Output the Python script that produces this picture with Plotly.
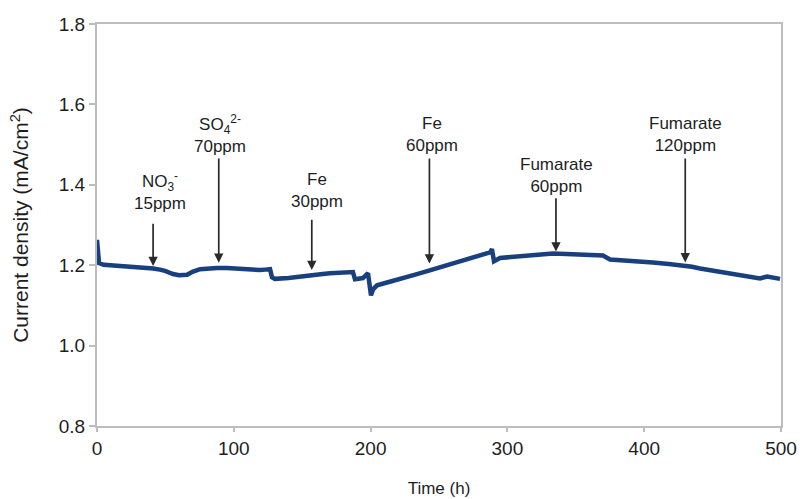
import plotly.graph_objects as go

# Time (h) and current density (mA/cm2)
time_h = [0, 0.7, 1.5, 5, 9.5, 15, 24, 32, 41, 46, 49.7, 55.6, 60, 65.8, 70.2, 75.3, 80, 87.7,
          95, 104.5, 112, 119, 123, 126.5, 127.9, 130, 140, 148.4, 157.9, 165, 170.3, 178, 185,
          187.1, 188.6, 194.4, 198.1, 200.3, 201.8, 204.7, 212, 221.5, 232, 242, 254, 265.4,
          276, 285.8, 287.3, 288.7, 290.2, 294.6, 302, 309.2, 320, 333.3, 343, 353, 362, 369.9,
          375, 382, 389.6, 398, 406.4, 418, 428.4, 435, 440.8, 448, 455.4, 463, 470, 477,
          484.6, 489.8, 494, 499.3]
current = [1.263, 1.240, 1.205, 1.201, 1.200, 1.199, 1.197, 1.195, 1.192, 1.189, 1.186, 1.178,
           1.175, 1.176, 1.184, 1.190, 1.192, 1.193, 1.193, 1.190, 1.189, 1.188, 1.189, 1.190,
           1.170, 1.166, 1.168, 1.172, 1.177, 1.178, 1.180, 1.182, 1.185, 1.183, 1.165, 1.168,
           1.180, 1.125, 1.140, 1.150, 1.157, 1.165, 1.176, 1.186, 1.198, 1.210, 1.219, 1.228,
           1.232, 1.240, 1.210, 1.218, 1.220, 1.222, 1.226, 1.229, 1.228, 1.226, 1.225, 1.224,
           1.214, 1.213, 1.212, 1.210, 1.207, 1.203, 1.200, 1.196, 1.192, 1.188, 1.183, 1.179,
           1.175, 1.171, 1.167, 1.172, 1.169, 1.166]

# Annotations: label, arrow x (h), arrow tail y, arrow head y, label x, label y
labels = ["NO<sub>3</sub><sup>-</sup><br>15ppm", "SO<sub>4</sub><sup>2-</sup><br>70ppm",
          "Fe<br>30ppm", "Fe<br>60ppm", "Fumarate<br>60ppm", "Fumarate<br>120ppm"]
arrow_x = [41, 89, 157, 243, 335.5, 430]
arrow_tail = [1.307, 1.469, 1.317, 1.469, 1.370, 1.469]
arrow_head = [1.198, 1.206, 1.188, 1.204, 1.234, 1.207]
label_x = [46, 90, 161, 245, 336, 430.5]
label_y = [1.385, 1.526, 1.385, 1.526, 1.424, 1.526]

x_ticks = [0, 100, 200, 300, 400, 500]
y_ticks = [0.8, 1.0, 1.2, 1.4, 1.6, 1.8]

FONT = "Liberation Sans, Arial, sans-serif"
font_color = "#1e1e1e"

fig = go.Figure()
fig.add_trace(go.Scatter(x=time_h, y=current, mode="lines",
                         line=dict(color="#183f7e", width=4.5), showlegend=False,
                         hoverinfo="x+y"))

ann = []
for lab, ax_, t, h, lx, ly in zip(labels, arrow_x, arrow_tail, arrow_head, label_x, label_y):
    ann.append(dict(x=ax_, y=h, ax=ax_, ay=t, xref="x", yref="y", axref="x", ayref="y",
                    text="", showarrow=True, arrowhead=2, arrowsize=1.1, arrowwidth=1.7,
                    arrowcolor="#2a2a2a"))
    ann.append(dict(x=lx, y=ly, xref="x", yref="y", text=lab, showarrow=False,
                    font=dict(family=FONT, size=17, color=font_color),
                    align="center"))

axis_common = dict(showline=True, linecolor="#bdbdbd", linewidth=2, mirror=True,
                   showgrid=False, zeroline=False, ticks="outside",
                   tickcolor="#bdbdbd", tickwidth=1.5, automargin=False,
                   tickfont=dict(family=FONT, size=19, color=font_color))

fig.update_layout(
    width=802, height=499,
    margin=dict(l=97, r=21, t=24, b=73),
    paper_bgcolor="white", plot_bgcolor="white",
    xaxis=dict(range=[0, 500], tickvals=x_ticks, ticktext=[str(v) for v in x_ticks],
               ticklen=4,
               title=dict(text="Time (h)", standoff=24,
                          font=dict(family=FONT, size=17, color=font_color)),
               **axis_common),
    yaxis=dict(range=[0.8, 1.8], tickvals=y_ticks, ticktext=[f"{v:.1f}" for v in y_ticks],
               ticklen=6,
               title=dict(text="Current density (mA/cm<sup>2</sup>)", standoff=24,
                          font=dict(family=FONT, size=21, color=font_color)),
               **axis_common),
    annotations=ann,
)

fig.write_html("out.html")
